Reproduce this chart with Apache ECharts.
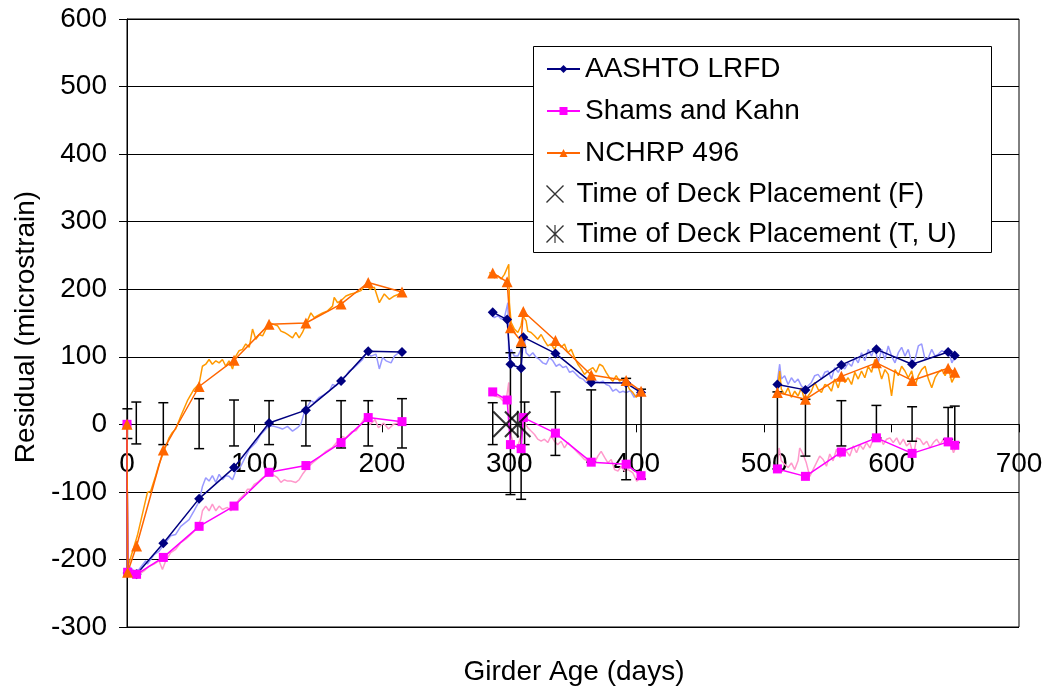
<!DOCTYPE html>
<html>
<head>
<meta charset="utf-8">
<script src="https://cdn.jsdelivr.net/npm/echarts@6/dist/echarts.min.js"></script>
<style>
  html, body { margin: 0; padding: 0; background: #fff; }
  #chart { width: 1048px; height: 690px; }
</style>
</head>
<body>
<div id="chart"></div>
<script>
const FONT = '"Liberation Sans", Arial, Helvetica, sans-serif';

// ---- axis ticks ----
const xTicks = { min: 0, max: 700, step: 100 };
const yTicks = { min: -300, max: 600, step: 100 };

// ---- model predictions: girder age (days) per measurement campaign ----
const modelDays = [
  [0, 0.5, 7.5, 28.5, 56.6, 84, 111.5, 140.4, 168, 189.3, 215.8],
  [287, 298.3, 300.9, 309.3, 311, 336.2, 364.3, 391.7, 403.4],
  [510.4, 532.4, 560.6, 588.1, 616.1, 644.4, 649.6]
];
const aashtoLRFD = [
  [0, -220, -222, -176, -110, -64, 2, 21, 64, 108, 107],
  [166, 155, 89, 83, 129, 105, 62, 61, 47],
  [59, 51, 88, 111, 89, 107, 102]
];
const shamsKahn = [
  [0, -219, -222, -197, -151, -121, -71, -61, -27, 10, 4],
  [48, 36, -30, -36, 10, -13, -56, -59, -76],
  [-66, -77, -41, -20, -43, -26, -31]
];
const nchrp496 = [
  [0, -219, -180, -38, 56, 95, 148, 150, 178, 210, 196],
  [224, 211, 143, 123, 167, 124, 73, 65, 49],
  [47, 37, 71, 91, 65, 83, 77]
];

// ---- daily residual traces [day, microstrain] ----
const aashtoDaily1 = [[0,0],[0.5,-215],[1.6,-210],[5.5,-217],[9.4,-215],[14.7,-202],[16,-207],[21.2,-193],[25.1,-188],[29,-178],[34.3,-165],[38.2,-163],[42.2,-151],[48.7,-141],[52.6,-128],[56.6,-114],[59.2,-92],[61.8,-79],[64.4,-84],[67,-76],[69.7,-86],[72.3,-74],[74.9,-82],[77.5,-76],[80.1,-77],[82.8,-82],[85.4,-69],[89.3,-62],[93.2,-47],[95.9,-37],[98.5,-32],[101.1,-27],[105,-15],[109,-7],[111.6,-2],[115.5,-3],[119.4,-5],[122,-7],[125.9,-3],[129.9,-10],[133.8,-5],[136.4,0],[139,17],[140.4,22],[144.3,35],[146.9,32],[150.9,40],[154.8,44],[158.7,49],[161.3,59],[164,57],[167.9,67],[171.8,72],[174.4,79],[177.1,82],[181,89],[184.9,96],[188,106],[191.5,101],[195.4,104],[198,82],[200.6,99],[203.3,94],[207.2,91],[209.8,101],[213.2,106]];
const aashtoDaily2 = [[284.4,165],[288.3,158],[291,161],[293.6,156],[296.2,158],[298.9,180],[299.6,96],[301.4,111],[304,101],[306.7,101],[309.2,111],[311.9,126],[313.2,106],[315.8,101],[318.5,106],[321.1,99],[323.7,96],[326.3,91],[329,89],[331.6,99],[334.2,94],[336.8,86],[339.4,89],[342,84],[344.7,86],[347.3,77],[349.9,79],[352.5,74],[355.2,69],[357.8,67],[360.4,62],[363,64],[365.6,67],[368.2,64],[370.8,62],[373.4,64],[376,59],[378.6,57],[381.3,49],[383.9,52],[386.5,47],[389.2,49],[391.8,47],[395,50],[398,40],[401,46],[404,42]];

const shamsDaily1 = [[0,0],[0.5,-214],[1.6,-215],[5.5,-225],[9.4,-222],[13.4,-217],[17.3,-210],[21.2,-207],[25.1,-202],[27.8,-215],[30.4,-202],[34.3,-190],[38.2,-185],[42.2,-175],[46.1,-170],[50.1,-163],[54,-156],[57.9,-141],[59.2,-128],[61.8,-121],[64.4,-128],[67,-118],[69.7,-128],[72.3,-121],[74.9,-126],[78.8,-123],[81.5,-128],[84.1,-121],[88,-111],[92,-104],[94.6,-96],[97.2,-96],[99.8,-89],[102.4,-86],[106.4,-79],[110.3,-76],[114.2,-74],[118.1,-79],[120.8,-86],[123.4,-82],[126,-84],[128.6,-84],[132.5,-86],[135.1,-82],[137.7,-74],[141.7,-64],[145.6,-57],[150.9,-49],[156.1,-40],[161.3,-34],[164,-28],[168.6,-18],[171.8,-20],[176.4,-11],[180,-9],[184.3,3],[187.4,12],[190.8,0],[194.7,7],[197.3,-5],[201.3,2],[205.2,-7],[209.1,0],[213,2],[215.1,0]];
const shamsDaily2 = [[284.4,48],[288.3,42],[292.3,40],[294.9,35],[297.5,35],[299.6,62],[300.1,27],[301.4,-17],[304,-32],[306.7,-32],[309.2,-17],[311.9,3],[314.5,-5],[317.1,-10],[319.8,-15],[322.3,-22],[325,-25],[327.6,-22],[330.2,-27],[332.8,-17],[335.4,-25],[338,-30],[340.7,-25],[343.3,-35],[345.9,-27],[348.6,-32],[351.2,-37],[353.8,-42],[356.4,-47],[359,-52],[361.7,-54],[364.3,-52],[366.9,-57],[369.5,-47],[372.1,-40],[374.8,-49],[377.4,-57],[380,-52],[382.6,-67],[385.3,-69],[387.9,-62],[390.5,-69],[393.2,-67],[397,-72],[400,-84],[404,-78]];

const nchrpDaily1 = [[0,0],[0.5,-212],[1.6,-210],[8.1,-165],[16,-101],[18.6,-99],[22.5,-76],[25.1,-59],[29,-40],[33,-20],[35.6,-12],[38.2,-7],[42.2,12],[47.4,35],[52.6,52],[56.6,60],[59.2,86],[61.8,89],[64.4,96],[67,89],[69.7,94],[72.3,91],[74.9,96],[77.5,86],[80.1,94],[82.8,82],[85.4,101],[88,109],[90.6,111],[93.2,119],[95.9,114],[98.5,141],[101.1,126],[103.7,133],[106.4,131],[109,141],[111.6,151],[115,148],[118.1,146],[120.8,138],[123.4,136],[126,133],[129.9,128],[132.5,136],[135.1,128],[137.7,136],[140.4,148],[144.3,165],[146.9,158],[149.5,161],[153.5,165],[157.4,168],[161.3,175],[162.6,188],[165.3,180],[167.9,183],[171.8,190],[175.7,193],[179.7,195],[183.6,198],[187.5,207],[190.7,200],[194.1,203],[198,180],[201.9,193],[205.8,185],[209.8,190],[213.7,193]];
const nchrpDaily2 = [[284.4,225],[288.3,217],[291,220],[293.6,215],[296.2,222],[299.6,237],[300.1,180],[301.4,151],[304,141],[306.7,136],[309.2,146],[310.6,161],[313.2,153],[314.5,138],[317.1,136],[319.8,131],[322.3,126],[325,133],[327.6,124],[330.2,116],[332.8,119],[335.4,111],[338,121],[340.7,114],[343.3,119],[345.9,106],[348.6,111],[351.2,99],[353.8,89],[356.4,82],[359,74],[361.7,79],[365.6,84],[368.2,77],[370.8,89],[373.4,86],[376,77],[378.6,69],[381.3,64],[383.9,72],[386.5,64],[389.2,67],[391.8,62],[394.3,52],[397,47],[399.6,40],[402.2,47],[404.3,44]];

// third campaign: AASHTO and NCHRP traces share sample days
const dailyDays3 = [510.4,512.2,513.5,516.1,518.8,521.4,524,526.6,529.2,531.8,534.5,537.1,539.7,542.3,545,547.6,550.2,552.8,555.4,558.1,560.7,563.3,565.9,568.6,571.2,573.8,576.4,579,581.7,584.3,586.9,589.5,592.2,594.8,597.4,600,602.7,605.3,607.9,610.5,613.1,615.8,618.4,621,623.6,626.3,628.9,631.5,634.1,636.8,639.4,642,644.6,647.3,649.9];
const aashtoDaily3 = [64,89,67,72,59,69,62,67,57,52,57,62,72,74,67,77,79,67,84,77,86,82,91,86,99,91,106,94,111,101,114,91,111,96,116,101,91,106,114,101,111,91,96,116,119,96,99,111,101,104,109,106,111,91,101];
const nchrpDaily3 = [49,79,52,44,54,40,49,42,54,35,42,49,62,52,47,59,57,49,67,54,72,62,69,59,77,67,79,69,86,77,96,86,67,81,74,42,81,72,86,79,69,79,57,72,81,86,67,54,69,77,81,72,84,62,72];
const shamsDays3 = [510.4,511.7,513.5,516.1,518.8,521.4,524,526.6,527.9,530.5,533.1,535.8,538.4,541,543.6,546.3,548.9,551.5,554.1,556.8,559.4,562,564.6,567.2,569.9,572.5,575.1,577.7,580.4,583,585.6,588.2,590.8,593.5,596.1,598.7,601.3,604,606.6,609.2,611.8,614.5,617.1,619.7,622.3,625,627.6,630.2,632.8,635.4,638.1,640.7,643.3,645.9,648.6,651.2];
const shamsDaily3 = [-62,-35,-54,-59,-64,-57,-67,-54,-35,-44,-57,-77,-67,-57,-47,-52,-62,-44,-54,-37,-49,-44,-40,-47,-32,-42,-30,-37,-27,-35,-22,-25,-17,-30,-22,-20,-27,-20,-30,-22,-32,-27,-47,-20,-22,-30,-25,-35,-27,-22,-30,-22,-25,-27,-42,-30];

// ---- measurement uncertainty bars around zero ----
const errDays = [0.3, 7.3, 28.5, 56.6, 84, 111.5, 140.4, 168, 189.3, 215.8, 287, 300.9, 309.3, 312, 336.2, 364.3, 391.7, 403.4, 510.4, 532.4, 560.6, 588.1, 616.1, 644.4, 649.6];
const errHigh = [23, 33, 32, 38, 36, 35, 35, 35, 35, 38, 32, 106, 114, 33, 48, 51, 68, 52, 48, 37, 35, 28, 26, 25, 27];
const errLow  = [-21, -29, -30, -36, -32, -30, -32, -35, -32, -35, -30, -104, -111, -30, -46, -56, -82, -81, -66, -47, -32, -20, -25, -22, -27];

// ---- deck placement events ----
const deckF  = [[297.4, 0]];
const deckTU = [[306.6, 0]];

const NAMES = {
  aashto: 'AASHTO LRFD',
  shams: 'Shams and Kahn',
  nchrp: 'NCHRP 496',
  deckF: 'Time of Deck Placement (F)',
  deckTU: 'Time of Deck Placement (T, U)'
};

// filled glyphs for the deck markers (diagonal cross, and cross with a vertical stroke)
const CROSS = 'path://M1.1 0L20 18.9L18.9 20L0 1.1Z M18.9 0L20 1.1L1.1 20L0 18.9Z';
const STAR  = 'path://M1.1 0L20 18.9L18.9 20L0 1.1Z M18.9 0L20 1.1L1.1 20L0 18.9Z M9.35 0L10.65 0L10.65 20L9.35 20Z';

const GRID = { left: 127, right: 29, top: 19, bottom: 63 };
const CHART_H = 690;

const zip = (days, vals) => vals.map((v, i) => [days[i], v]);

function dailySeries(segments, color) {
  return segments.map(seg => ({
    type: 'line', data: seg, symbol: 'none', z: 2, silent: true,
    lineStyle: { color: color, width: 1.5 }
  }));
}

function modelSeries(name, values, color, symbol, size) {
  return values.map((seg, i) => ({
    name: name, type: 'line', data: zip(modelDays[i], seg), z: 4,
    symbol: symbol, symbolSize: size,
    itemStyle: { color: color },
    lineStyle: { color: color, width: 1.5 }
  }));
}

const errorBars = {
  type: 'custom', z: 3, silent: true,
  data: errDays.map((d, i) => [d, errLow[i], errHigh[i]]),
  renderItem: function (params, api) {
    const top = api.coord([api.value(0), api.value(2)]);
    const bot = api.coord([api.value(0), api.value(1)]);
    const w = 5;
    const st = { stroke: '#000', lineWidth: 1.5 };
    return {
      type: 'group',
      children: [
        { type: 'line', shape: { x1: top[0], y1: top[1], x2: bot[0], y2: bot[1] }, style: st },
        { type: 'line', shape: { x1: top[0] - w, y1: top[1], x2: top[0] + w, y2: top[1] }, style: st },
        { type: 'line', shape: { x1: bot[0] - w, y1: bot[1], x2: bot[0] + w, y2: bot[1] }, style: st }
      ]
    };
  }
};

const series = [].concat(
  dailySeries([aashtoDaily1, aashtoDaily2, zip(dailyDays3, aashtoDaily3)], '#9999FF'),
  dailySeries([shamsDaily1, shamsDaily2, zip(shamsDays3, shamsDaily3)], '#FF99CC'),
  dailySeries([nchrpDaily1, nchrpDaily2, zip(dailyDays3, nchrpDaily3)], '#FF9900'),
  [errorBars],
  modelSeries(NAMES.aashto, aashtoLRFD, '#000080', 'diamond', 10),
  modelSeries(NAMES.shams, shamsKahn, '#FF00FF', 'rect', 9),
  modelSeries(NAMES.nchrp, nchrp496, '#FF6600', 'triangle', 11),
  [
    { name: NAMES.deckF, type: 'scatter', data: deckF, symbol: CROSS, symbolSize: 27,
      symbolKeepAspect: true, z: 5, itemStyle: { color: '#000' } },
    { name: NAMES.deckTU, type: 'scatter', data: deckTU, symbol: STAR, symbolSize: 27,
      symbolKeepAspect: true, z: 5, itemStyle: { color: '#000' } }
  ]
);

// the horizontal axis crosses the vertical one at zero: shift it up from the grid bottom
const plotH = CHART_H - GRID.top - GRID.bottom;
const zeroFromBottom = plotH * (0 - yTicks.min) / (yTicks.max - yTicks.min);

const chart = echarts.init(document.getElementById('chart'), null, { renderer: 'canvas' });
chart.setOption({
  animation: false,
  backgroundColor: '#fff',
  textStyle: { fontFamily: FONT },
  grid: Object.assign({
    show: true, borderColor: '#000', borderWidth: 1, backgroundColor: '#fff'
  }, GRID),
  legend: [
    {
      orient: 'vertical', left: 546, top: 55, padding: 0, z: 6,
      itemWidth: 33, itemHeight: 10, itemGap: 14,
      data: [NAMES.aashto, NAMES.shams, NAMES.nchrp],
      textStyle: { fontSize: 28, fontFamily: FONT, color: '#000' },
      selectedMode: false
    },
    {
      orient: 'vertical', left: 546, top: 180, padding: 0, z: 6,
      itemWidth: 33, itemHeight: 18, itemGap: 12,
      data: [NAMES.deckF, NAMES.deckTU],
      textStyle: { fontSize: 28, fontFamily: FONT, color: '#000' },
      selectedMode: false
    }
  ],
  xAxis: {
    type: 'value', min: xTicks.min, max: xTicks.max, interval: xTicks.step,
    position: 'bottom', offset: -zeroFromBottom,
    axisLine: { onZero: false, lineStyle: { color: '#000', width: 1 } },
    axisTick: { show: true, inside: false, length: 8, lineStyle: { color: '#000' } },
    axisLabel: { fontSize: 28, color: '#000', fontFamily: FONT, margin: 26 },
    splitLine: { show: false }
  },
  yAxis: {
    type: 'value', min: yTicks.min, max: yTicks.max, interval: yTicks.step,
    axisLine: { show: true, onZero: false, lineStyle: { color: '#000', width: 1 } },
    axisTick: { show: true, inside: false, length: 8, lineStyle: { color: '#000' } },
    axisLabel: { fontSize: 28, color: '#000', fontFamily: FONT, margin: 20 },
    splitLine: { show: true, lineStyle: { color: '#000', width: 1 } }
  },
  graphic: [
    {
      // legend frame, opaque so the gridlines stop at its edge
      type: 'rect', left: 533, top: 46, z: 5,
      shape: { width: 458, height: 206 },
      style: { fill: '#fff', stroke: '#000', lineWidth: 1 }
    },
    {
      type: 'text', x: 574, y: 672,
      style: { text: 'Girder Age (days)', font: '28px ' + FONT, fill: '#000',
               textAlign: 'center', textVerticalAlign: 'middle' }
    },
    {
      type: 'text', x: 26, y: 327, rotation: Math.PI / 2,
      style: { text: 'Residual (microstrain)', font: '28px ' + FONT, fill: '#000',
               textAlign: 'center', textVerticalAlign: 'middle' }
    }
  ],
  series: series
});
</script>
</body>
</html>
